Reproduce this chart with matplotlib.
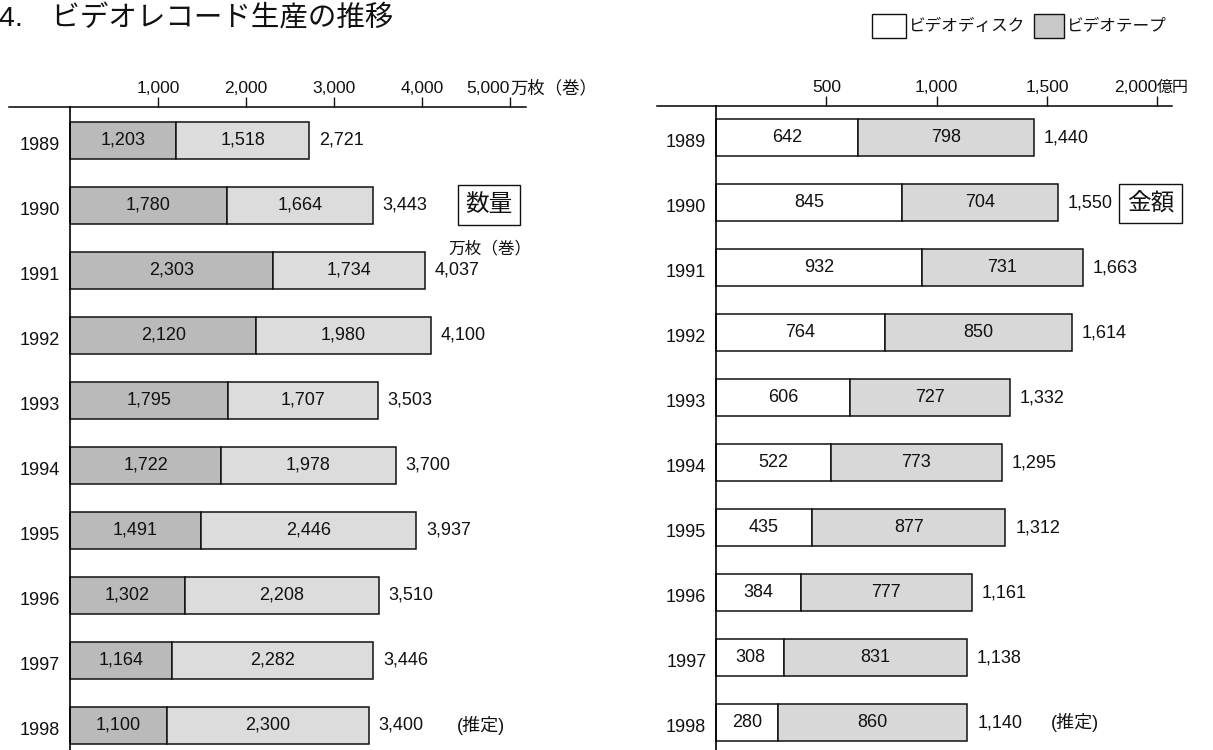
import matplotlib
matplotlib.use("Agg")
import matplotlib.pyplot as plt
from matplotlib.patches import Rectangle
import numpy as np

plt.rcParams['font.family'] = ['Liberation Sans', 'Noto Sans CJK JP']
plt.rcParams['text.color'] = '#111111'

# --- data ---
years = ['1989', '1990', '1991', '1992', '1993', '1994', '1995', '1996', '1997', '1998']

qty_disk = [1203, 1780, 2303, 2120, 1795, 1722, 1491, 1302, 1164, 1100]
qty_tape = [1518, 1664, 1734, 1980, 1707, 1978, 2446, 2208, 2282, 2300]
qty_total = [2721, 3443, 4037, 4100, 3503, 3700, 3937, 3510, 3446, 3400]

amt_disk = [642, 845, 932, 764, 606, 522, 435, 384, 308, 280]
amt_tape = [798, 704, 731, 850, 727, 773, 877, 777, 831, 860]
amt_total = [1440, 1550, 1663, 1614, 1332, 1295, 1312, 1161, 1138, 1140]

qty_ticks = [1000, 2000, 3000, 4000, 5000]
qty_ticklabels = ['1,000', '2,000', '3,000', '4,000', '5,000']
amt_ticks = [500, 1000, 1500, 2000]
amt_ticklabels = ['500', '1,000', '1,500', '2,000']

# --- layout helpers (pixel based) ---
W, H = 1213, 750
fig = plt.figure(figsize=(W / 100, H / 100), dpi=100)
fig.patch.set_facecolor('white')


def fx(px):
    return px / W


def fy(py):
    return 1 - py / H


def px_axes(x0, x1, y_top):
    return fig.add_axes([fx(x0), 0, (x1 - x0) / W, (H - y_top) / H])


def px_box(x0, y0, x1, y1, fc='white', lw=1.0):
    fig.add_artist(Rectangle((fx(x0), fy(y1)), (x1 - x0) / W, (y1 - y0) / H,
                             transform=fig.transFigure, facecolor=fc,
                             edgecolor='#111111', linewidth=lw))


BAR_H = 0.57
NUM_FS = 13
TICK_FS = 12.5


def setup_axis(ax, xlim, ylim, ticks, labels, unit, unit_fs):
    ax.set_xlim(*xlim)
    ax.set_ylim(*ylim)
    for s in ['right', 'bottom']:
        ax.spines[s].set_visible(False)
    ax.spines['left'].set_position(('data', 0))
    ax.spines['left'].set_linewidth(1.2)
    ax.spines['top'].set_linewidth(1.1)
    ax.xaxis.tick_top()
    ax.tick_params(axis='x', direction='out', length=7.2, width=1.0,
                   pad=0.8, labelsize=TICK_FS, colors='#111111')
    ax.set_yticks([])
    ax.set_xticks(ticks)
    ax.set_xticklabels(labels)
    ax.get_xticklabels()[-1].set_ha('right')
    ax.annotate(unit, xy=(ticks[-1], 1), xycoords=('data', 'axes fraction'),
                xytext=(0, 8.0), textcoords='offset points',
                ha='left', va='bottom', fontsize=unit_fs)
    ax.patch.set_alpha(0)


def draw_bars(ax, first, second, totals, c1, c2, est_x):
    y = np.arange(len(years))
    ax.barh(y, first, height=BAR_H, color=c1, edgecolor='#111111', linewidth=1.1)
    ax.barh(y, second, left=first, height=BAR_H, color=c2, edgecolor='#111111', linewidth=1.1)
    for i in range(len(years)):
        ax.text(first[i] / 2, i, f"{first[i]:,}", ha='center', va='center', fontsize=NUM_FS)
        ax.text(first[i] + second[i] / 2, i, f"{second[i]:,}", ha='center', va='center', fontsize=NUM_FS)
        ax.annotate(f"{totals[i]:,}", xy=(first[i] + second[i], i), xytext=(7, 0),
                    textcoords='offset points', ha='left', va='center', fontsize=NUM_FS)
        ax.annotate(years[i], xy=(0, i), xytext=(-7, -3.5), textcoords='offset points',
                    ha='right', va='center', fontsize=NUM_FS)
    ax.text(est_x, len(years) - 1, "(推定)", ha='left', va='center', fontsize=NUM_FS)


# left chart: quantity
ax1 = px_axes(9.5, 526, 107)
setup_axis(ax1, (-687, 5183), (9.377, -0.515), qty_ticks, qty_ticklabels, '万枚（巻）', 12.5)
draw_bars(ax1, qty_disk, qty_tape, qty_total, '#bababa', '#dcdcdc', 4398)

# right chart: value
ax2 = px_axes(656.7, 1171.5, 106)
setup_axis(ax2, (-269, 2065), (9.42, -0.485), amt_ticks, amt_ticklabels, '億円', 11.5)
draw_bars(ax2, amt_disk, amt_tape, amt_total, 'white', '#d8d8d8', 1519)

# title
fig.text(fx(-1), fy(26), "4.　ビデオレコード生産の推移", fontsize=20.5,
         ha='left', va='baseline')

# legend
px_box(872, 14, 906, 38, fc='white')
fig.text(fx(909), fy(26), "ビデオディスク", fontsize=12, ha='left', va='center')
px_box(1034, 14, 1064, 38, fc='#c8c8c8')
fig.text(fx(1067), fy(26), "ビデオテープ", fontsize=12, ha='left', va='center')

# boxed labels
px_box(458, 185, 520, 225)
fig.text(fx(489), fy(205), "数量", fontsize=17, ha='center', va='center')
fig.text(fx(490), fy(248), "万枚（巻）", fontsize=12, ha='center', va='center')
px_box(1119, 184, 1182, 223)
fig.text(fx(1150.5), fy(203.5), "金額", fontsize=17, ha='center', va='center')

fig.savefig("out.png", dpi=100, facecolor='white')
